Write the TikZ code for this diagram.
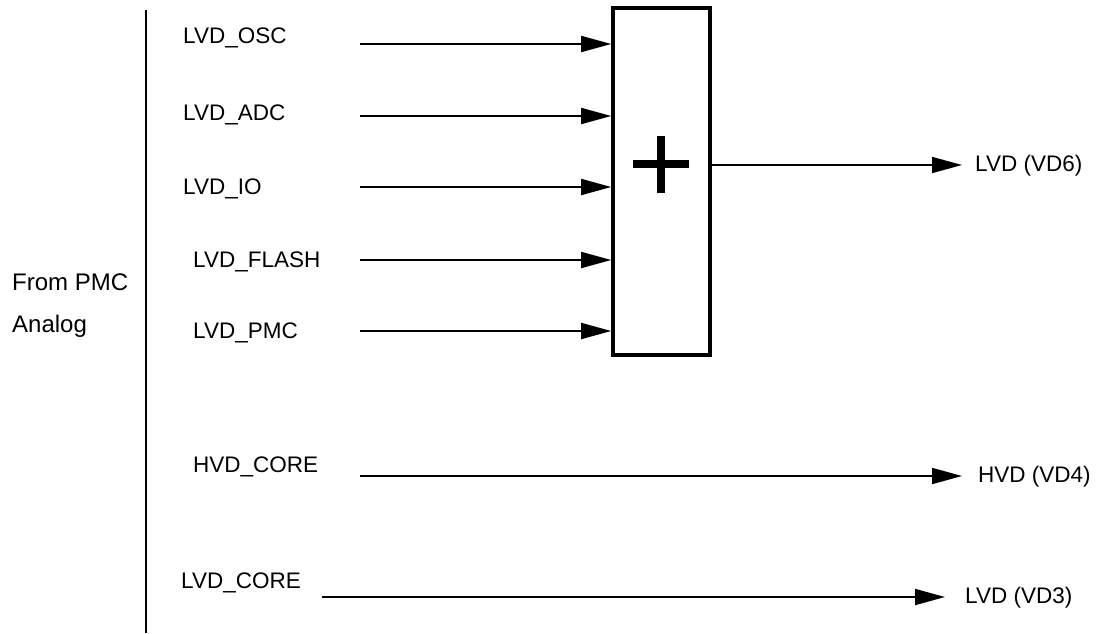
\documentclass[tikz,border=0pt]{standalone}
\usepackage{fontspec}
\setmainfont{Liberation Sans}
\usetikzlibrary{arrows.meta}
\begin{document}
\begin{tikzpicture}[x=1pt,y=-1pt,
  lbl/.style={anchor=west,inner sep=0pt,font=\fontsize{22.5}{27}\selectfont},
  sig/.style={line width=1.8pt,-{Triangle[length=30pt,width=16pt]}},
  sumbox/.style={draw,line width=3.6pt,minimum width=97pt,minimum height=347pt,inner sep=0pt}]
\useasboundingbox (0,0) rectangle (1100,633);
% bus line
\coordinate (bt) at (146,10);
\coordinate (bb) at (146,633);
\draw[line width=2pt] (bt) -- (bb);
\node[lbl,align=left,font=\fontsize{24}{42}\selectfont] (from) at (12,306) {From PMC\\Analog};
% summing box
\node[sumbox] (sum) at (661.5,181.5) {};
\node (plus) at (661,164) {};
\draw[line width=8pt] ([xshift=-28pt]plus.center) -- ([xshift=28pt]plus.center);
\draw[line width=8pt] ([yshift=-28.5pt]plus.center) -- ([yshift=28.5pt]plus.center);
% input labels
\node[lbl] (osc) at (183,38) {LVD\_OSC};
\node[lbl] (adc) at (183,115) {LVD\_ADC};
\node[lbl] (io) at (183,189) {LVD\_IO};
\node[lbl] (flash) at (193,262) {LVD\_FLASH};
\node[lbl] (pmc) at (193,333) {LVD\_PMC};
\node[lbl] (hvdc) at (193,467) {HVD\_CORE};
\node[lbl] (lvdc) at (181,583) {LVD\_CORE};
% input starts
\coordinate (s1) at (360,44);
\coordinate (s2) at (360,116);
\coordinate (s3) at (360,187);
\coordinate (s4) at (360,260);
\coordinate (s5) at (360,331);
\draw[sig] (s1) -- (s1 -| sum.west);
\draw[sig] (s2) -- (s2 -| sum.west);
\draw[sig] (s3) -- (s3 -| sum.west);
\draw[sig] (s4) -- (s4 -| sum.west);
\draw[sig] (s5) -- (s5 -| sum.west);
% outputs
\node[lbl] (vd6) at (975,166) {LVD (VD6)};
\node[lbl] (vd4) at (978,477) {HVD (VD4)};
\node[lbl] (vd3) at (965,598) {LVD (VD3)};
\coordinate (o1) at (710,165);
\draw[sig] (o1) -- (o1 -| 962,0);
\coordinate (o2) at (360,476);
\draw[sig] (o2) -- (o2 -| 962,0);
\coordinate (o3) at (322,597);
\draw[sig] (o3) -- (o3 -| 945,0);
\end{tikzpicture}
\end{document}
